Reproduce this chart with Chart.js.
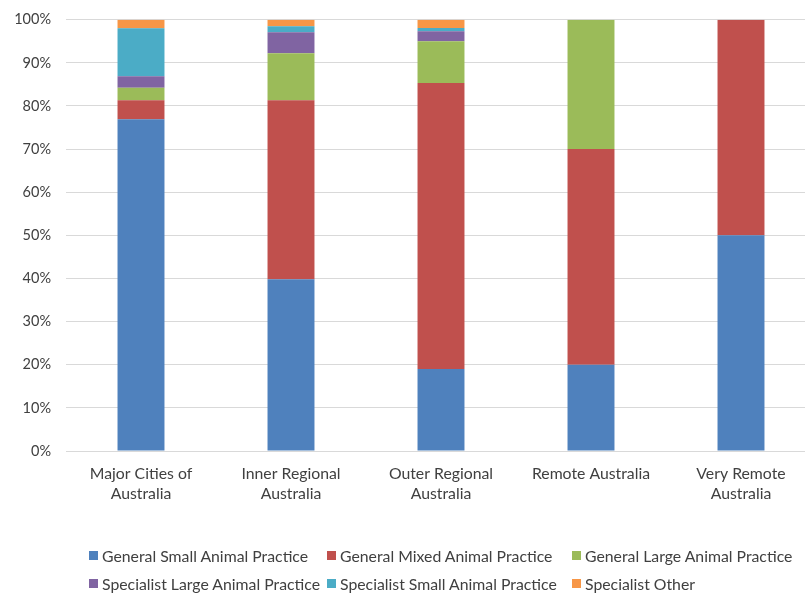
<!DOCTYPE html>
<html>
<head>
<meta charset="utf-8">
<script src="https://cdn.jsdelivr.net/npm/chart.js@4/dist/chart.umd.min.js"></script>
<style>
  html, body { margin: 0; padding: 0; background: #ffffff; overflow: hidden; width: 805px; height: 595px; }
  #wrap { position: relative; width: 805px; height: 595px; overflow: hidden; }
  canvas { position: absolute; left: 0; top: -4px; }
  #legend { position: absolute; left: 0; top: 0; font-family: Lato, "Liberation Sans", sans-serif; font-size: 15.8px; color: #404040; }
  .item { position: absolute; white-space: nowrap; display: flex; align-items: center; height: 20px; }
  .sw { width: 9px; height: 9px; margin-right: 4px; }
</style>
</head>
<body>
<div id="wrap">
  <canvas id="c" width="816" height="599"></canvas>
  <div id="legend"></div>
</div>
<script>
// Regions (two-line axis labels)
const categories = [
  ["Major Cities of", "Australia"],
  ["Inner Regional", "Australia"],
  ["Outer Regional", "Australia"],
  ["Remote Australia"],
  ["Very Remote", "Australia"]
];

// Share of practices by type, percent of each region
const generalSmall  = [76.9, 39.8, 19.0, 20, 50];
const generalMixed  = [4.4, 41.5, 66.3, 50, 50];
const generalLarge  = [2.9, 10.9, 9.7, 30, 0];
const specialistLarge = [2.7, 4.9, 2.3, 0, 0];
const specialistSmall = [11.1, 1.4, 0.8, 0, 0];
const specialistOther = [2.0, 1.5, 1.9, 0, 0];

const seriesNames = [
  "General Small Animal Practice",
  "General Mixed Animal Practice",
  "General Large Animal Practice",
  "Specialist Large Animal Practice",
  "Specialist Small Animal Practice",
  "Specialist Other"
];
const seriesColors = ["#4F81BD", "#C0504D", "#9BBB59", "#8064A2", "#4BACC6", "#F79646"];
const seriesData = [generalSmall, generalMixed, generalLarge, specialistLarge, specialistSmall, specialistOther];

const yTicks = [0, 10, 20, 30, 40, 50, 60, 70, 80, 90, 100];

const FONT = "Lato, 'Liberation Sans', sans-serif";

const datasets = seriesNames.map((name, i) => ({
  label: name,
  data: seriesData[i],
  backgroundColor: seriesColors[i],
  borderWidth: 0,
  barPercentage: 0.313,
  categoryPercentage: 1.0
}));

const chart = new Chart(document.getElementById("c"), {
  type: "bar",
  data: { labels: categories, datasets: datasets },
  options: {
    responsive: false,
    animation: false,
    layout: { padding: { top: 15, right: 0, left: 0, bottom: 0 } },
    plugins: { legend: { display: false }, tooltip: { enabled: false } },
    scales: {
      x: {
        stacked: true,
        grid: { display: false, drawTicks: false },
        border: { display: true, color: "#d9d9d9", width: 1 },
        ticks: { color: "#404040", font: { family: FONT, size: 15.8, lineHeight: 1.27 }, padding: 13, maxRotation: 0, autoSkip: false },
        afterFit: (axis) => { axis.height = 144; }
      },
      y: {
        stacked: true,
        min: 0,
        max: 100,
        afterBuildTicks: (axis) => { axis.ticks = yTicks.map(v => ({ value: v })); },
        grid: { color: "#d9d9d9", lineWidth: 1, drawTicks: false },
        border: { display: false },
        ticks: { color: "#404040", font: { family: FONT, size: 14.5 }, padding: 15, callback: (v) => v + "%" },
        afterFit: (axis) => { axis.width = 66; }
      }
    }
  }
});

// Legend laid out in three columns, two rows
const legendCols = [89, 327, 572];
const legendRows = [545, 573];
const legendEl = document.getElementById("legend");
chart.data.datasets.forEach((ds, i) => {
  const item = document.createElement("div");
  item.className = "item";
  item.style.left = legendCols[i % 3] + "px";
  item.style.top = legendRows[Math.floor(i / 3)] + "px";
  const sw = document.createElement("span");
  sw.className = "sw";
  sw.style.background = ds.backgroundColor;
  const tx = document.createElement("span");
  tx.textContent = ds.label;
  item.appendChild(sw);
  item.appendChild(tx);
  legendEl.appendChild(item);
});
</script>
</body>
</html>
